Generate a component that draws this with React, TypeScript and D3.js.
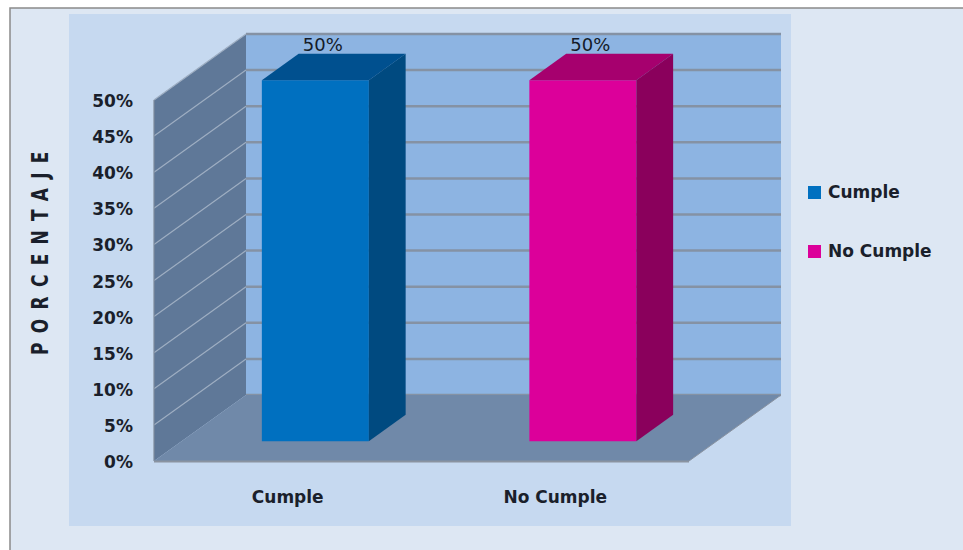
import React from "react";
import * as d3 from "d3";

// Chart data
const categories = ["Cumple", "No Cumple"];
const values = [50, 50];
const seriesColors = ["#0070c0", "#dc009a"];
const topColors = ["#00508f", "#a6006e"];
const sideColors = ["#004a80", "#8a005c"];
const yTicks = [0, 5, 10, 15, 20, 25, 30, 35, 40, 45, 50];

const W = 963;
const H = 550;

// 3D frame geometry: front plane plus a receding depth offset
const frontLeft = 154;
const frontRight = 689;
const frontBottom = 461;
const frontTop = 100;
const depthX = 92;
const depthY = -66;
const barZ0 = 0.3;
const barZ1 = 0.7;

const FONT = "'DejaVu Sans', sans-serif";

export default function App() {
  const y = d3.scaleLinear().domain([0, 50]).range([frontBottom, frontTop]);
  const x = d3.scaleBand<string>().domain(categories).range([frontLeft, frontRight]).padding(0);
  const barW = x.bandwidth() * 0.4;

  const pts = (arr: [number, number][]) => arr.map((p) => p.join(",")).join(" ");
  const proj = (px: number, py: number, z: number): [number, number] => [px + z * depthX, py + z * depthY];

  const backL = frontLeft + depthX;
  const backR = frontRight + depthX;

  const bars = categories.map((c, i) => {
    const cx = (x(c) ?? 0) + x.bandwidth() / 2;
    const x0 = cx - barW / 2;
    const x1 = cx + barW / 2;
    const yb = y(0);
    const yt = y(values[i]);
    const fBL = proj(x0, yb, barZ0);
    const fBR = proj(x1, yb, barZ0);
    const fTL = proj(x0, yt, barZ0);
    const fTR = proj(x1, yt, barZ0);
    const bBR = proj(x1, yb, barZ1);
    const bTL = proj(x0, yt, barZ1);
    const bTR = proj(x1, yt, barZ1);
    return (
      <g key={c}>
        <polygon points={pts([fBL, fBR, fTR, fTL])} fill={seriesColors[i]} />
        <polygon points={pts([fTL, fTR, bTR, bTL])} fill={topColors[i]} />
        <polygon points={pts([fBR, bBR, bTR, fTR])} fill={sideColors[i]} />
        <text
          x={cx + 35}
          y={y(values[i]) - 49}
          textAnchor="middle"
          fontFamily={FONT}
          fontSize={18}
          fill="#141b28"
        >
          {values[i]}%
        </text>
      </g>
    );
  });

  const titleSpacing = 9.3;

  return (
    <svg
      width={W}
      height={H}
      style={{ position: "absolute", left: 0, top: 0, display: "block" }}
    >
      <rect x={0} y={0} width={W} height={H} fill="#ffffff" />
      <rect x={10} y={8} width={W + 10} height={H} fill="#dde7f3" stroke="#8a8a8a" strokeWidth={1.5} />
      <rect x={69} y={14} width={722} height={512} fill="#c6d9f0" />

      {/* back wall */}
      <rect x={backL} y={y(50) + depthY} width={backR - backL} height={y(0) - y(50)} fill="#8db4e2" />
      {yTicks.map((t) => (
        <line
          key={"bg" + t}
          x1={backL}
          x2={backR}
          y1={y(t) + depthY}
          y2={y(t) + depthY}
          stroke="#8592a4"
          strokeWidth={2.5}
        />
      ))}

      {/* left wall */}
      <polygon
        points={pts([
          [frontLeft, y(50)],
          [backL, y(50) + depthY],
          [backL, y(0) + depthY],
          [frontLeft, y(0)],
        ])}
        fill="#5f7898"
      />
      {yTicks.slice(1).map((t) => (
        <line
          key={"lg" + t}
          x1={frontLeft}
          y1={y(t)}
          x2={backL}
          y2={y(t) + depthY}
          stroke="#9eaec2"
          strokeWidth={1.2}
        />
      ))}
      <line x1={frontLeft} x2={frontLeft} y1={y(50)} y2={y(0)} stroke="#7d8a9c" strokeWidth={1.2} />

      {/* floor */}
      <polygon
        points={pts([
          [frontLeft, y(0)],
          [backL, y(0) + depthY],
          [backR, y(0) + depthY],
          [frontRight, y(0)],
        ])}
        fill="#7089a9"
      />
      <line x1={frontLeft} x2={frontRight} y1={y(0) + 0.5} y2={y(0) + 0.5} stroke="#8a93a0" strokeWidth={2} />
      <line x1={frontRight} y1={y(0)} x2={backR} y2={y(0) + depthY} stroke="#8a93a0" strokeWidth={1} />

      {bars}

      {/* y tick labels */}
      {yTicks.map((t) => (
        <text
          key={"yt" + t}
          x={133}
          y={y(t) + 7}
          textAnchor="end"
          fontFamily={FONT}
          fontWeight="bold"
          fontSize={17}
          fill="#1a1f2b"
        >
          {t}%
        </text>
      ))}

      {/* category labels */}
      {categories.map((c) => (
        <text
          key={"xl" + c}
          x={(x(c) ?? 0) + x.bandwidth() / 2}
          y={503}
          textAnchor="middle"
          fontFamily={FONT}
          fontWeight="bold"
          fontSize={17}
          fill="#1a1f2b"
        >
          {c}
        </text>
      ))}

      {/* y axis title */}
      <text
        transform={`translate(48, ${244 + titleSpacing / 2}) scale(1.3,1) rotate(-90)`}
        textAnchor="middle"
        fontFamily={FONT}
        fontWeight="bold"
        fontSize={17}
        letterSpacing={titleSpacing}
        fill="#1a1f2b"
      >
        PORCENTAJE
      </text>

      {/* legend */}
      {categories.map((c, i) => (
        <g key={"lg" + c} transform={`translate(808, ${186 + i * 59})`}>
          <rect x={0} y={0} width={13} height={13} fill={seriesColors[i]} />
          <text x={20} y={12} fontFamily={FONT} fontWeight="bold" fontSize={17} fill="#1a1f2b">
            {c}
          </text>
        </g>
      ))}
    </svg>
  );
}
